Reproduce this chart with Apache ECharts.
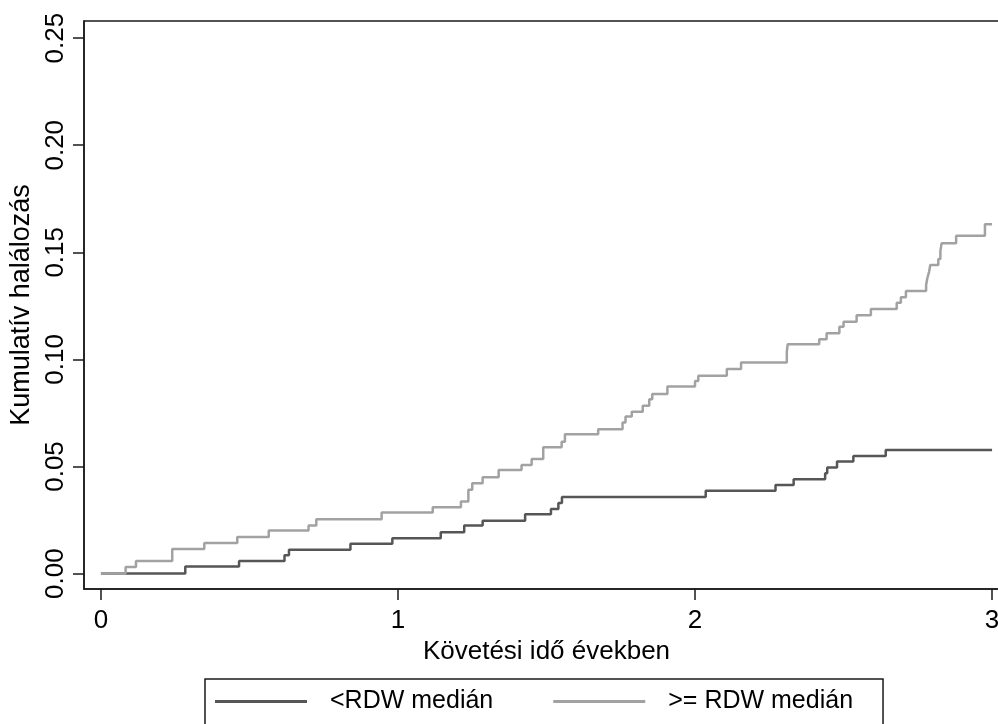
<!DOCTYPE html>
<html>
<head>
<meta charset="utf-8">
<script src="https://cdn.jsdelivr.net/npm/echarts@6/dist/echarts.min.js"></script>
<style>
html,body{margin:0;padding:0;background:#fff;}
#chart{width:998px;height:724px;}
</style>
</head>
<body>
<div id="chart"></div>
<script>
// Times (years) at which the cumulative mortality steps, and the value after each step
var lowTimes  = [0, 0.284, 0.465, 0.618, 0.633, 0.840, 0.981, 1.144, 1.223, 1.285, 1.428, 1.515, 1.540, 1.552, 2.036, 2.271, 2.332, 2.438, 2.445, 2.478, 2.533, 2.642, 3.0];
var lowValues = [0, 0.0033, 0.0059, 0.0086, 0.0111, 0.0139, 0.0165, 0.0193, 0.0224, 0.0247, 0.0277, 0.0302, 0.0329, 0.0357, 0.0387, 0.0414, 0.0441, 0.0468, 0.0495, 0.0523, 0.0549, 0.0577, 0.0577];

var highTimes  = [0, 0.083, 0.118, 0.240, 0.348, 0.459, 0.565, 0.699, 0.725, 0.945, 1.117, 1.212, 1.237, 1.250, 1.285, 1.339, 1.416, 1.450, 1.489, 1.551, 1.562, 1.674, 1.756, 1.766, 1.787, 1.824, 1.846, 1.856, 1.907, 2.000, 2.011, 2.107, 2.155, 2.309, 2.312, 2.418, 2.443, 2.486, 2.500, 2.544, 2.592, 2.679, 2.693, 2.710, 2.778, 2.782, 2.788, 2.792, 2.819, 2.826, 2.830, 2.879, 2.976, 3.0];
var highValues = [0, 0.0031, 0.0059, 0.0115, 0.0143, 0.0171, 0.0201, 0.0224, 0.0254, 0.0285, 0.0310, 0.0336, 0.0391, 0.0422, 0.0450, 0.0484, 0.0507, 0.0535, 0.0590, 0.0616, 0.0651, 0.0674, 0.0705, 0.0733, 0.0756, 0.0784, 0.0814, 0.0839, 0.0873, 0.0899, 0.0924, 0.0955, 0.0985, 0.1036, 0.1071, 0.1094, 0.1122, 0.1153, 0.1176, 0.1206, 0.1235, 0.1265, 0.1290, 0.1319, 0.1347, 0.1379, 0.1409, 0.1441, 0.1469, 0.1505, 0.1542, 0.1577, 0.1631, 0.1631];

var xTicks = [0, 1, 2, 3];
var yTicks = [0, 0.05, 0.10, 0.15, 0.20, 0.25];
var seriesNames = ['<RDW medián', '>= RDW medián'];
var xTitle = 'Követési idő években';
var yTitle = 'Kumulatív halálozás';

function pairs(t, v) { return t.map(function (x, i) { return [x, v[i]]; }); }

var FONT = 'Liberation Sans, Arial, sans-serif';
var chart = echarts.init(document.getElementById('chart'), null, {renderer: 'canvas'});
chart.setOption({
  backgroundColor: '#ffffff',
  animation: false,
  grid: {left: 84, top: 21, width: 925, height: 568, outerBoundsMode: 'none', containLabel: false,
         show: true, borderColor: '#1a1a1a', borderWidth: 1.5, backgroundColor: 'transparent'},
  xAxis: {
    type: 'value', min: -0.057, max: 3.057,
    name: xTitle, nameLocation: 'middle', nameGap: 39,
    nameTextStyle: {fontFamily: FONT, fontSize: 26, color: '#000'},
    axisLine: {show: true, onZero: false, lineStyle: {color: '#1a1a1a', width: 1.5}},
    axisTick: {show: true, length: 11, customValues: xTicks, lineStyle: {color: '#1a1a1a', width: 1.5}},
    axisLabel: {customValues: xTicks, fontFamily: FONT, fontSize: 26, color: '#000', margin: 19},
    splitLine: {show: false}
  },
  yAxis: {
    type: 'value', min: -0.0072, max: 0.258,
    name: yTitle, nameLocation: 'middle', nameRotate: 90, nameGap: 47,
    nameTextStyle: {fontFamily: FONT, fontSize: 27, color: '#000'},
    axisLine: {show: true, onZero: false, lineStyle: {color: '#1a1a1a', width: 1.5}},
    axisTick: {show: true, length: 11, customValues: yTicks, lineStyle: {color: '#1a1a1a', width: 1.5}},
    axisLabel: {customValues: yTicks, rotate: 90, fontFamily: FONT, fontSize: 26, color: '#000', margin: 15,
      formatter: function (v) { return v.toFixed(2); }},
    splitLine: {show: false}
  },
  legend: {
    left: 205, top: 679,
    data: seriesNames,
    orient: 'horizontal',
    icon: 'rect',
    itemWidth: 92, itemHeight: 3, itemGap: 60,
    padding: [10, 30, 14, 10],
    borderColor: '#1a1a1a', borderWidth: 1.5,
    textStyle: {fontFamily: FONT, fontSize: 25, color: '#000', padding: [0, 0, 0, 18]}
  },
  series: [
    {name: seriesNames[0], type: 'line', step: 'end', symbol: 'none', z: 2,
     lineStyle: {color: '#565656', width: 2.5}, itemStyle: {color: '#565656'},
     data: pairs(lowTimes, lowValues)},
    {name: seriesNames[1], type: 'line', step: 'end', symbol: 'none', z: 3,
     lineStyle: {color: '#a2a2a2', width: 2.5}, itemStyle: {color: '#a2a2a2'},
     data: pairs(highTimes, highValues)}
  ]
});
</script>
</body>
</html>
